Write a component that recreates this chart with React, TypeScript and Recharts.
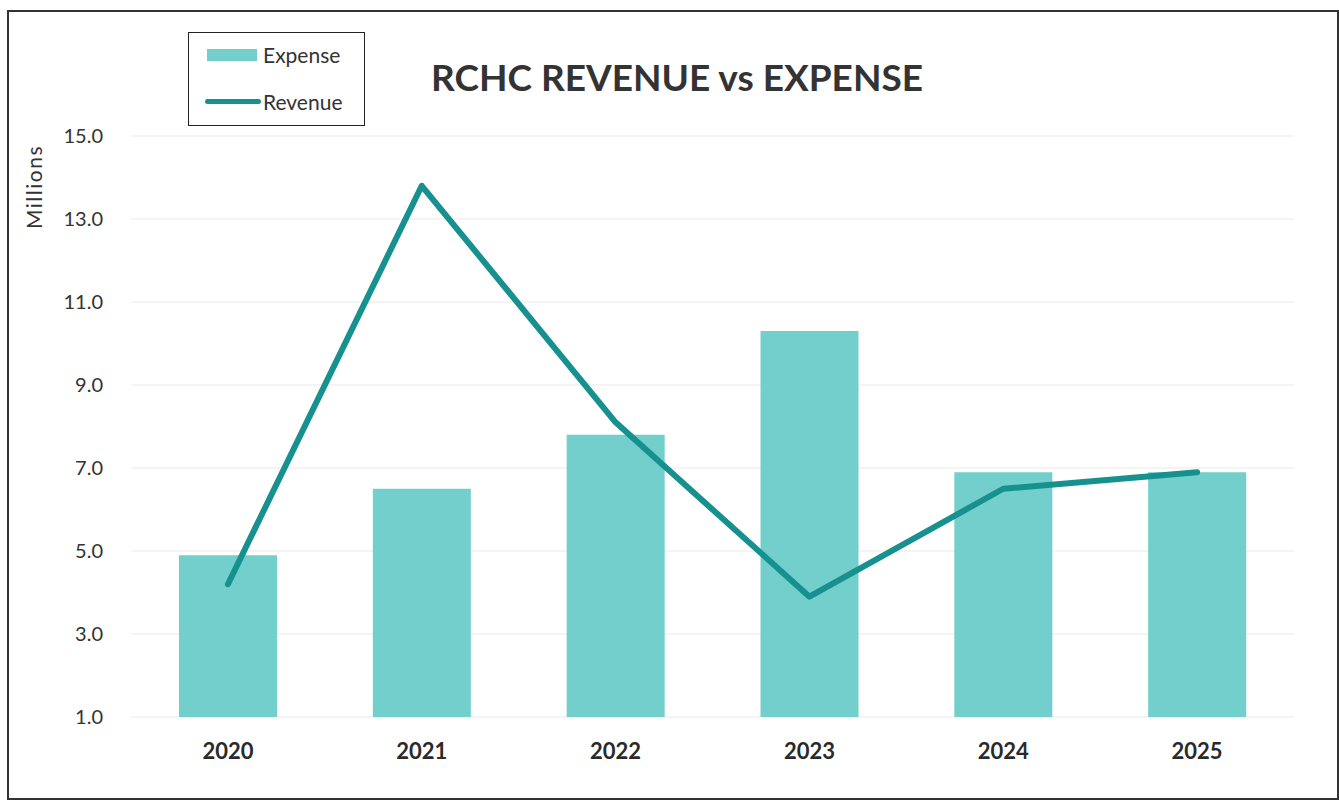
import React from 'react'
import {
  ComposedChart,
  Bar,
  Line,
  XAxis,
  YAxis,
  CartesianGrid
} from 'recharts'

const years = ['2020', '2021', '2022', '2023', '2024', '2025']
const expense = [4.9, 6.5, 7.8, 10.3, 6.9, 6.9]
const revenue = [4.2, 13.8, 8.1, 3.9, 6.5, 6.9]
const yTicks = [1, 3, 5, 7, 9, 11, 13, 15]

const BAR_COLOR = '#72CFCB'
const LINE_COLOR = '#17918F'
const FONT = 'Lato, "Open Sans", sans-serif'

const chartData = years.map((year, i) => ({
  year,
  expense: expense[i],
  revenue: revenue[i]
}))

// rotated axis title sitting near the top of the y axis
const MillionsLabel = () => (
  <text
    x={42}
    y={187}
    transform="rotate(-90, 42, 187)"
    textAnchor="middle"
    style={{ fontFamily: FONT, fontSize: 21, letterSpacing: 1.5, fill: '#333' }}
  >
    Millions
  </text>
)

const App = () => {
  return (
    <div
      style={{
        position: 'absolute',
        left: 0,
        top: 0,
        width: 1339,
        height: 801,
        background: '#fff',
        fontFamily: FONT
      }}
    >
      {/* outer frame */}
      <div
        style={{
          position: 'absolute',
          left: 7,
          top: 10,
          width: 1328,
          height: 786,
          border: '2px solid #333'
        }}
      />

      <ComposedChart
        width={1339}
        height={801}
        data={chartData}
        margin={{ top: 136, right: 45, left: 71, bottom: 54 }}
        style={{ position: 'absolute', left: 0, top: 0 }}
      >
        <CartesianGrid vertical={false} stroke="#e9e9e9" strokeWidth={1} />
        <XAxis
          dataKey="year"
          height={30}
          axisLine={false}
          tickLine={false}
          tickMargin={20}
          tick={{ fontSize: 22, fontWeight: 700, fill: '#2a2a2a', fontFamily: FONT }}
        />
        <YAxis
          domain={[1, 15]}
          ticks={yTicks}
          allowDataOverflow
          width={60}
          axisLine={false}
          tickLine={false}
          tickMargin={22}
          tickFormatter={(v: number) => v.toFixed(1)}
          tick={{ fontSize: 20, fill: '#333', fontFamily: FONT }}
          label={<MillionsLabel />}
        />
        <Bar dataKey="expense" fill={BAR_COLOR} barSize={98} isAnimationActive={false} />
        <Line
          dataKey="revenue"
          type="linear"
          stroke={LINE_COLOR}
          strokeWidth={6}
          strokeLinecap="round"
          strokeLinejoin="round"
          dot={false}
          activeDot={false}
          isAnimationActive={false}
        />
      </ComposedChart>

      {/* title */}
      <div
        style={{
          position: 'absolute',
          left: 0,
          width: 1354,
          top: 58,
          textAlign: 'center',
          fontSize: 37,
          lineHeight: '37px',
          fontWeight: 700,
          color: '#333'
        }}
      >
        RCHC REVENUE vs EXPENSE
      </div>

      {/* legend box */}
      <div
        style={{
          position: 'absolute',
          left: 188,
          top: 32,
          width: 175,
          height: 92,
          border: '1.5px solid #222'
        }}
      />
      <div
        style={{
          position: 'absolute',
          left: 207,
          top: 49,
          width: 50,
          height: 12,
          background: BAR_COLOR
        }}
      />
      <div
        style={{
          position: 'absolute',
          left: 205,
          top: 99,
          width: 56,
          height: 5,
          borderRadius: 3,
          background: LINE_COLOR
        }}
      />
      <div
        style={{
          position: 'absolute',
          left: 263,
          top: 44,
          fontSize: 21,
          lineHeight: '21px',
          color: '#333'
        }}
      >
        Expense
      </div>
      <div
        style={{
          position: 'absolute',
          left: 263,
          top: 91,
          fontSize: 21,
          lineHeight: '21px',
          color: '#333'
        }}
      >
        Revenue
      </div>
    </div>
  )
}

export default App
